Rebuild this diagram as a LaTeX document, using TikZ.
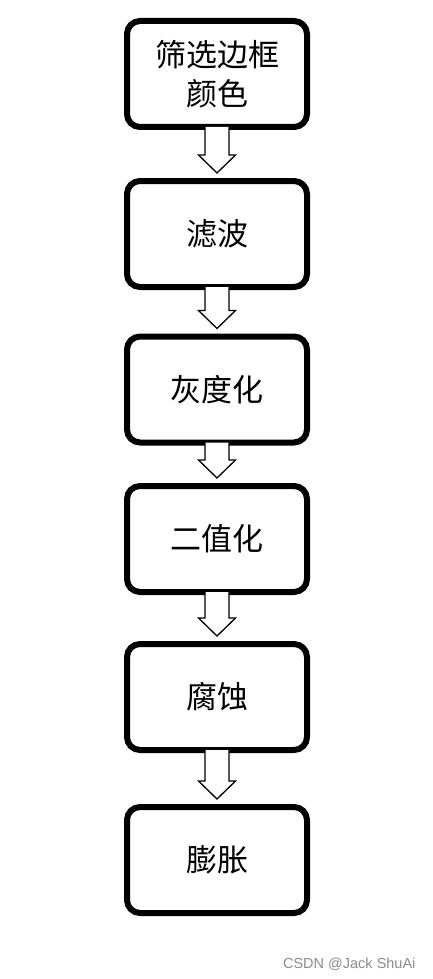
\documentclass[tikz,border=0pt]{standalone}
\usepackage{fontspec}
\newfontfamily\cjk{Noto Sans CJK SC}
\setmainfont{Liberation Sans}
\usetikzlibrary{calc}
\begin{document}
\begin{tikzpicture}[x=1pt,y=-1pt,
  procbox/.style={draw=black,line width=6pt,rounded corners=13pt,minimum width=180pt,minimum height=106pt,inner sep=0pt,align=center,font=\cjk\fontsize{31}{39}\selectfont},
  blockarrow/.style={draw=black,line width=1.3pt,fill=white,line join=miter}]
\useasboundingbox (0,0) rectangle (433,979);
\node[procbox] (b1) at (217,74) {筛选边框\\颜色};
\node[procbox] (b2) at (217,234) {滤波};
\node[procbox] (b3) at (217,389.5) {灰度化};
\node[procbox] (b4) at (217,539) {二值化};
\node[procbox] (b5) at (217,697) {腐蚀};
\node[procbox] (b6) at (217,860) {膨胀};
\foreach \a/\b in {b1/b2,b2/b3,b3/b4,b4/b5,b5/b6}{
  \coordinate (s) at ($(\a.south)+(0,-3)$);
  \coordinate (t) at ($(\b.north)+(0,-5)$);
  \draw[blockarrow] ($(s)+(-12,0)$) -- ($(t)+(-12,-18)$) -- ($(t)+(-18.5,-18)$) -- (t) -- ($(t)+(18.5,-18)$) -- ($(t)+(12,-18)$) -- ($(s)+(12,0)$);
}
\node[text=black!45,font=\fontsize{14.5}{16}\selectfont,anchor=east] (wm) at (419,964) {CSDN @Jack ShuAi};
\end{tikzpicture}
\end{document}
